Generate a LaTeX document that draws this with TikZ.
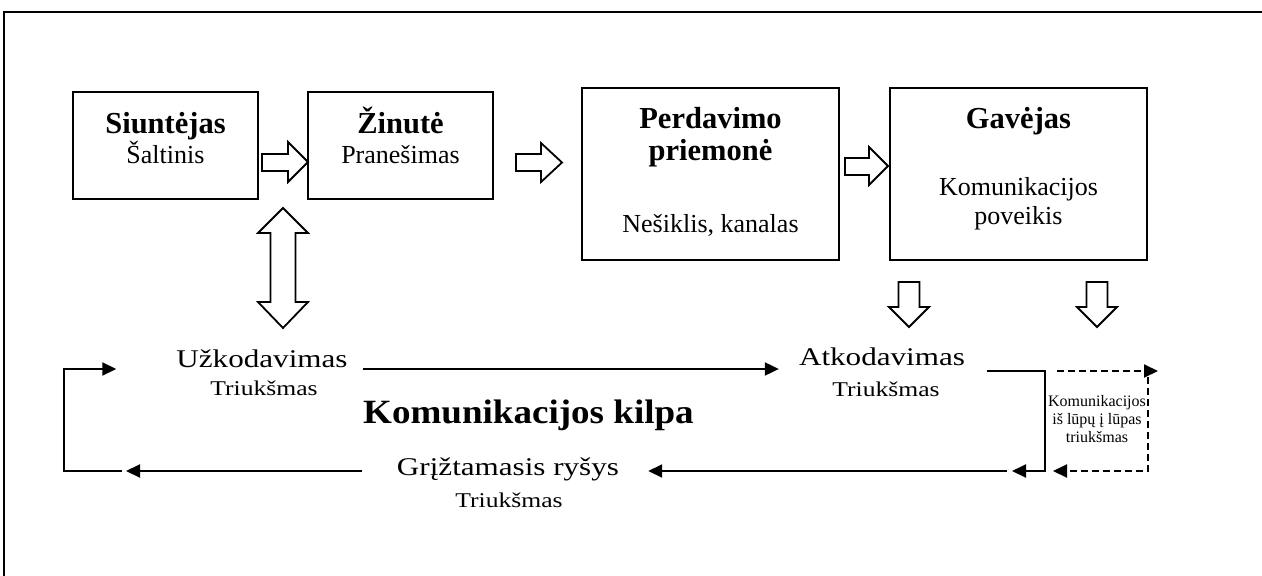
\documentclass[tikz,border=0pt]{standalone}
\usepackage{fontspec}
\setmainfont{Liberation Serif}
\newfontfamily\lowfont[FakeStretch=1.22]{Liberation Serif}
\newfontfamily\titlefont[FakeStretch=1.09]{Liberation Serif}
\usetikzlibrary{arrows.meta,calc}
\begin{document}
\begin{tikzpicture}[x=1pt,y=-1pt,
  box/.style={draw,line width=2pt,inner sep=0pt},
  txt/.style={inner sep=0pt,anchor=base},
  boldtxt/.style={txt,font=\fontsize{30.5}{34}\selectfont\bfseries},
  boxtxt/.style={txt,font=\fontsize{26}{30}\selectfont},
  bigtxt/.style={txt,font=\lowfont\fontsize{25.5}{29}\selectfont},
  noisetxt/.style={txt,font=\lowfont\fontsize{21}{25}\selectfont},
  hollow/.style={draw,line width=1.8pt,fill=white,line join=miter},
  conn/.style={line width=2pt,-{Triangle[length=14pt,width=13pt]}},
  dconn/.style={line width=2pt,dash pattern=on 7pt off 4pt,-{Triangle[length=14pt,width=13pt]}},
]
\useasboundingbox (0,0) rectangle (1262,576);
% outer frame
\draw[line width=2pt] (4,576) -- (4,12) -- (1262,12);

% boxes
\node[box,minimum width=185pt,minimum height=107pt] (b1) at (165.5,145.5) {};
\node[box,minimum width=185pt,minimum height=107pt] (b2) at (400.5,145.5) {};
\node[box,minimum width=257pt,minimum height=172pt] (b3) at (710.5,174) {};
\node[box,minimum width=257pt,minimum height=172pt] (b4) at (1018.5,174) {};

% box texts
\node[boldtxt] (s1) at (165.5,133) {Siuntėjas};
\node[boxtxt] (s2) at (165.5,163) {Šaltinis};
\node[boldtxt] (z1) at (400.5,133) {Žinutė};
\node[boxtxt] (z2) at (400.5,163) {Pranešimas};
\node[boldtxt] (p1) at (710.5,128) {Perdavimo};
\node[boldtxt] (p2) at (710.5,160) {priemonė};
\node[boxtxt] (p3) at (710.5,232) {Nešiklis, kanalas};
\node[boldtxt] (g1) at (1018.5,128) {Gavėjas};
\node[boxtxt] (g2) at (1018.5,195) {Komunikacijos};
\node[boxtxt] (g3) at (1018.5,224) {poveikis};

% hollow block arrows
\draw[hollow] (262,154) -- (288,154) -- (288,142) -- (308,162) -- (288,182) -- (288,171) -- (262,171) -- cycle;
\draw[hollow] (516,154) -- (541,154) -- (541,143) -- (562,162.5) -- (541,182) -- (541,171) -- (516,171) -- cycle;
\draw[hollow] (845,158) -- (869,158) -- (869,147) -- (888,166) -- (869,185) -- (869,175) -- (845,175) -- cycle;
\draw[hollow] (283,208) -- (308,233) -- (295.5,233) -- (295.5,302) -- (308,302) -- (283,328) -- (258,302) -- (270.5,302) -- (270.5,233) -- (258,233) -- cycle;
\draw[hollow] (898.5,282) -- (919.5,282) -- (919.5,307) -- (929,307) -- (909,327) -- (889,307) -- (898.5,307) -- cycle;
\draw[hollow] (1086.5,282) -- (1107.5,282) -- (1107.5,307) -- (1117,307) -- (1097,327) -- (1077,307) -- (1086.5,307) -- cycle;

% lower texts
\node[bigtxt] (u1) at (262,367) {Užkodavimas};
\node[noisetxt] (u2) at (264,395) {Triukšmas};
\node[bigtxt] (a1) at (882,365) {Atkodavimas};
\node[noisetxt] (a2) at (886,396) {Triukšmas};
\node[txt,anchor=base west,font=\titlefont\fontsize{34}{38}\selectfont\bfseries] (k) at (363,423) {Komunikacijos kilpa};
\node[bigtxt] (r1) at (508,475) {Grįžtamasis ryšys};
\node[noisetxt] (r2) at (509,507) {Triukšmas};
\node[inner sep=0pt,anchor=north,align=center,font=\fontsize{16}{18}\selectfont] (n) at (1097,395) {Komunikacijos\\iš lūpų į lūpas\\triukšmas};

% connector coordinates
\coordinate (ytop) at (0,369);
\coordinate (ybot) at (0,471);
\coordinate (yr) at (0,371);
\coordinate (lb) at (64,471);
\coordinate (lt) at (64,369);
\coordinate (br) at (1045,371);
\coordinate (dr) at (b4.east|-yr);

% connectors
\draw[conn] ($(u1.east|-ytop)+(15,0)$) -- ($(a1.west|-ytop)+(-20,0)$);
\draw[conn] ($(r1.west|-ybot)+(-35,0)$) -- ($(lb)+(62,0)$);
\draw[conn] ($(lb)+(58,0)$) -- (lb) -- (lt) -- ($(u1.west|-ytop)+(-60,0)$);
\draw[conn] ($(a1.east|-yr)+(22,0)$) -- (br) -- (br|-ybot) -- ($(br|-ybot)+(-33,0)$);
\draw[conn] ($(br|-ybot)+(-38,0)$) -- ($(r1.east|-ybot)+(29,0)$);
\draw[dconn] ($(br)+(12,0)$) -- ($(dr)+(10,0)$);
\draw[dconn] ($(dr)+(0,6)$) -- (dr|-ybot) -- ($(br|-ybot)+(8,0)$);
\end{tikzpicture}
\end{document}
